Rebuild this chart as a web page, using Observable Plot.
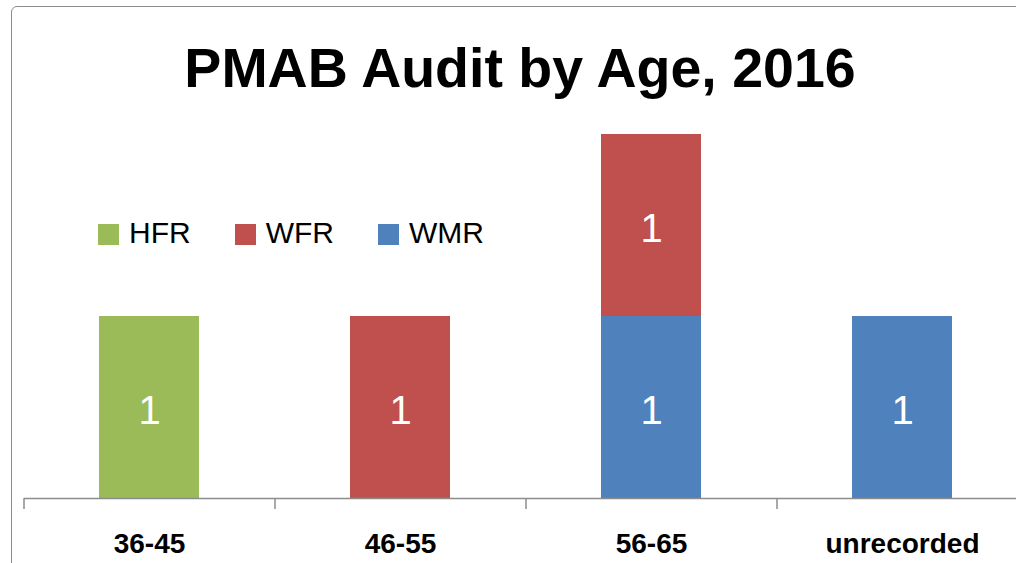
<!DOCTYPE html>
<html>
<head>
<meta charset="utf-8">
<script src="https://cdn.jsdelivr.net/npm/d3@7"></script>
<script src="https://cdn.jsdelivr.net/npm/@observablehq/plot@0.6"></script>
<style>
  html, body { margin: 0; padding: 0; background: #fff; }
  #wrap { position: relative; width: 1016px; height: 563px; overflow: hidden; font-family: "Liberation Sans", Arial, sans-serif; }
  #frame { position: absolute; left: 11px; top: 6px; width: 1100px; height: 700px; border: 1.5px solid #8c8c8c; border-radius: 6px; box-sizing: border-box; }
  #title { position: absolute; left: 0; width: 1040px; top: 41px; text-align: center; font-size: 55.5px; line-height: 55.5px; font-weight: bold; color: #000; }
  #legend { position: absolute; left: 98px; top: 216px; display: flex; gap: 44px; align-items: center; font-size: 30px; line-height: 34px; color: #000; }
  #legend .item { display: flex; align-items: center; gap: 10px; }
  #legend .sw { width: 21px; height: 21px; display: inline-block; margin-top: 3px; }
  #chart { position: absolute; left: 0; top: 0; }
</style>
</head>
<body>
<div id="wrap">
  <div id="frame"></div>
  <div id="chart"></div>
  <div id="title"></div>
  <div id="legend"></div>
</div>
<script>
const titleText = "PMAB Audit by Age, 2016";
const categories = ["36-45", "46-55", "56-65", "unrecorded"];
const seriesNames = ["HFR", "WFR", "WMR"];
const seriesColors = ["#9BBB59", "#C0504D", "#4F81BD"];
const stackOrder = ["WMR", "WFR", "HFR"];
const HFR = [1, 0, 0, 0];
const WFR = [0, 1, 1, 0];
const WMR = [0, 0, 1, 1];

const seriesValues = {HFR, WFR, WMR};
const data = [];
for (const s of seriesNames) {
  categories.forEach((c, i) => {
    const v = seriesValues[s][i];
    if (v > 0) data.push({category: c, series: s, value: v});
  });
}

document.getElementById("title").textContent = titleText;
const legend = document.getElementById("legend");
seriesNames.forEach((s, i) => {
  const item = document.createElement("div");
  item.className = "item";
  const sw = document.createElement("span");
  sw.className = "sw";
  sw.style.background = seriesColors[i];
  const t = document.createElement("span");
  t.textContent = s;
  item.appendChild(sw);
  item.appendChild(t);
  legend.appendChild(item);
});

const W = 1016, H = 563, mL = 24;
const step = (W + 12 - mL) / categories.length;

const chart = Plot.plot({
  width: W,
  height: H,
  marginLeft: mL,
  marginRight: 0,
  marginTop: 43,
  marginBottom: 65,
  style: {fontFamily: "'Liberation Sans', Arial, sans-serif", background: "transparent", overflow: "visible"},
  x: {domain: categories, range: [mL, W + 12], paddingInner: 0.6, paddingOuter: 0.3, label: null},
  y: {domain: [0, 2.5], axis: null},
  color: {domain: seriesNames, range: seriesColors},
  marks: [
    Plot.barY(data, {x: "category", y: "value", fill: "series", order: stackOrder, z: "series"}),
    Plot.text(data, Plot.stackY({x: "category", y: "value", z: "series", order: stackOrder, text: d => String(d.value), fill: "white", fontSize: 40, dy: 4})),
    Plot.ruleY([0], {stroke: "#8c8c8c", strokeWidth: 1.5}),
    Plot.ruleX(categories, {x: d => d, y1: 0, y2: -0.06, dx: -step / 2, stroke: "#8c8c8c", strokeWidth: 1.5}),
    Plot.axisX({tickSize: 0, tickPadding: 35, fontSize: 28, fontWeight: "bold", fill: "#000", label: null})
  ]
});
document.getElementById("chart").appendChild(chart);
</script>
</body>
</html>
